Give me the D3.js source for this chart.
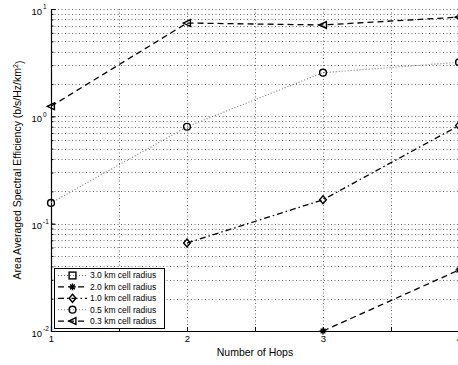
<!DOCTYPE html>
<html>
<head>
<meta charset="utf-8">
<script src="https://cdn.jsdelivr.net/npm/d3@7"></script>
<style>
  body { margin: 0; background: #fff; }
  svg { display: block; font-family: "Liberation Sans", Arial, sans-serif; }
</style>
</head>
<body>
<svg width="458" height="365"></svg>
<script>
// исходные данные
const hops = [1, 2, 3, 4];
const seriesNames = ["3.0 km cell radius", "2.0 km cell radius", "1.0 km cell radius",
                     "0.5 km cell radius", "0.3 km cell radius"];
const eff30 = [null, null, null, null];
const eff20 = [null, null, 0.01, 0.037];
const eff10 = [null, 0.066, 0.167, 0.82];
const eff05 = [0.156, 0.80, 2.55, 3.19];
const eff03 = [1.24, 7.4, 7.1, 8.4];
const xTicks = [1, 1.5, 2, 2.5, 3, 3.5, 4];
const yDecades = [0.01, 0.1, 1, 10];

const svg = d3.select("svg");

const area = { left: 51, top: 9, right: 459, bottom: 331 };

const scX = d3.scaleLinear().domain([1, 4]).range([area.left, area.right]);
const scY = d3.scaleLog().domain([0.01, 10]).range([area.bottom, area.top]);

// стили серий: линия + маркер
const styles = [
    { data: eff30, dash: "1,2", color: "#666", width: 1, marker: "square" },
    { data: eff20, dash: "6,4", color: "#000", width: 1.3, marker: "star" },
    { data: eff10, dash: "6,3,1.5,3", color: "#000", width: 1.3, marker: "diamond" },
    { data: eff05, dash: "1,2", color: "#777", width: 1.1, marker: "circle" },
    { data: eff03, dash: "6,4", color: "#000", width: 1.3, marker: "triangle" }
];

// сетка
const gridColor = "#444";
svg.append("g")
   .selectAll("line")
   .data(scY.ticks())
   .enter()
   .append("line")
   .attr("x1", area.left)
   .attr("x2", area.right)
   .attr("y1", d => Math.round(scY(d)) + 0.5)
   .attr("y2", d => Math.round(scY(d)) + 0.5)
   .style("stroke", gridColor)
   .style("stroke-width", 0.8)
   .style("stroke-dasharray", "1,2.5");

svg.append("g")
   .selectAll("line")
   .data(xTicks)
   .enter()
   .append("line")
   .attr("x1", d => Math.round(scX(d)) + 0.5)
   .attr("x2", d => Math.round(scX(d)) + 0.5)
   .attr("y1", area.top)
   .attr("y2", area.bottom)
   .style("stroke", gridColor)
   .style("stroke-width", 0.8)
   .style("stroke-dasharray", "1,2.5");

// оси
const axisX = d3.axisBottom(scX)
                .tickValues(xTicks)
                .tickSize(-4)
                .tickPadding(4)
                .tickFormat(d => Number.isInteger(d) ? d : "");
const gX = svg.append("g")
   .attr("transform", `translate(0, ${area.bottom})`)
   .call(axisX);
gX.selectAll("text").style("font-size", "9.5px").style("fill", "#000");

// малые деления на оси Y
const axisYMinor = d3.axisLeft(scY)
                     .tickValues(scY.ticks())
                     .tickSize(-2.5)
                     .tickFormat("");
svg.append("g")
   .attr("transform", `translate(${area.left}, 0)`)
   .call(axisYMinor)
   .select(".domain").remove();

const axisY = d3.axisLeft(scY)
                .tickValues(yDecades)
                .tickSize(-4.5)
                .tickPadding(5)
                .tickFormat("");
const gY = svg.append("g")
   .attr("transform", `translate(${area.left}, 0)`)
   .call(axisY);

gY.selectAll(".tick")
  .append("text")
  .attr("x", -9)
  .attr("dy", "0.55em")
  .attr("text-anchor", "end")
  .style("font-size", "9.5px")
  .style("fill", "#000")
  .text("10");
gY.selectAll(".tick")
  .append("text")
  .attr("x", -8)
  .attr("dy", "-0.05em")
  .attr("text-anchor", "start")
  .style("font-size", "6.5px")
  .style("fill", "#000")
  .text(d => Math.round(Math.log10(d)));

[gX, gY].forEach(g => {
    g.select(".domain").style("stroke", "#000").style("stroke-width", 1.2);
    g.selectAll(".tick line").style("stroke", "#000");
});
svg.selectAll(".tick line").style("stroke", "#000");

// подписи осей
svg.append("text")
   .attr("x", (area.left + area.right) / 2)
   .attr("y", 356)
   .attr("text-anchor", "middle")
   .style("font-size", "10.5px")
   .text("Number of Hops");

const yLabel = svg.append("text")
   .attr("transform", `translate(21, ${(area.top + area.bottom) / 2}) rotate(-90)`)
   .attr("text-anchor", "middle")
   .style("font-size", "10.5px");
yLabel.append("tspan").text("Area Averaged Spectral Efficiency (b/s/Hz/km");
yLabel.append("tspan").attr("dy", "-0.45em").style("font-size", "7px").text("2");
yLabel.append("tspan").attr("dy", "0.45em").text(")");

// маркеры
function drawMarker(g, type, x, y) {
    const s = 3.4;
    let m;
    if (type === "circle") {
        m = g.append("circle").attr("cx", x).attr("cy", y).attr("r", s);
    } else if (type === "square") {
        m = g.append("rect").attr("x", x - s).attr("y", y - s)
             .attr("width", 2 * s).attr("height", 2 * s);
    } else if (type === "diamond") {
        m = g.append("path")
             .attr("d", `M${x},${y - s - 0.6}L${x + s},${y}L${x},${y + s + 0.6}L${x - s},${y}Z`);
    } else if (type === "triangle") {
        m = g.append("path")
             .attr("d", `M${x - s - 0.4},${y}L${x + s},${y - s}L${x + s},${y + s}Z`);
    } else if (type === "star") {
        m = g.append("path")
             .attr("d", `M${x - s},${y}L${x + s},${y}M${x},${y - s}L${x},${y + s}` +
                        `M${x - s * 0.7},${y - s * 0.7}L${x + s * 0.7},${y + s * 0.7}` +
                        `M${x - s * 0.7},${y + s * 0.7}L${x + s * 0.7},${y - s * 0.7}`);
    }
    m.style("fill", type === "star" ? "none" : "#fff")
     .style("fill-opacity", 0)
     .style("stroke", "#000")
     .style("stroke-width", 1.4);
}

// линии серий
const line = d3.line()
    .defined(d => d.v != null)
    .x(d => scX(d.x))
    .y(d => scY(d.v));

styles.forEach(st => {
    const pts = hops.map((h, i) => ({ x: h, v: st.data[i] }));
    svg.append("path")
       .datum(pts)
       .attr("d", line)
       .style("fill", "none")
       .style("stroke", st.color)
       .style("stroke-width", st.width)
       .style("stroke-dasharray", st.dash);
    const gm = svg.append("g");
    pts.filter(d => d.v != null)
       .forEach(d => drawMarker(gm, st.marker, scX(d.x), scY(d.v)));
});

// легенда
const leg = { x: 54, y: 268, w: 110, h: 60, row: 11.4 };
svg.append("rect")
   .attr("x", leg.x + 0.5)
   .attr("y", leg.y + 0.5)
   .attr("width", leg.w)
   .attr("height", leg.h)
   .style("fill", "#fff")
   .style("stroke", "#000")
   .style("stroke-width", 1);

styles.forEach((st, i) => {
    const yy = leg.y + 7.5 + i * leg.row;
    svg.append("line")
       .attr("x1", leg.x + 4)
       .attr("x2", leg.x + 33)
       .attr("y1", yy)
       .attr("y2", yy)
       .style("stroke", st.color)
       .style("stroke-width", st.width)
       .style("stroke-dasharray", st.dash);
    drawMarker(svg.append("g"), st.marker, leg.x + 18.5, yy);
    svg.append("text")
       .attr("x", leg.x + 36)
       .attr("y", yy)
       .attr("dy", "0.35em")
       .style("font-size", "8.5px")
       .text(seriesNames[i]);
});
</script>
</body>
</html>
